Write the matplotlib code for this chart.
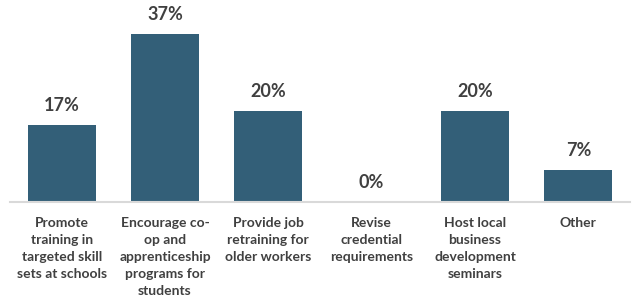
import matplotlib
matplotlib.use("Agg")
import matplotlib.pyplot as plt

categories = ["Promote\ntraining in\ntargeted skill\nsets at schools",
              "Encourage co-\nop and\napprenticeship\nprograms for\nstudents",
              "Provide job\nretraining for\nolder workers",
              "Revise\ncredential\nrequirements",
              "Host local\nbusiness\ndevelopment\nseminars",
              "Other"]
values = [17, 37, 20, 0, 20, 7]
labels = ["17%", "37%", "20%", "0%", "20%", "7%"]

plt.rcParams['font.family'] = ['Lato', 'DejaVu Sans']
fig = plt.figure(figsize=(6.38, 3.06), dpi=100)
ax = fig.add_axes([10/638, 1-202/306, 620/638, 202/306])
x = list(range(len(values)))
bars = ax.bar(x, values, width=0.66, color="#335f78")
ax.set_xlim(-0.5, len(values)-0.5)
ax.set_ylim(0, 44.4)
for xi, v, l in zip(x, values, labels):
    ax.text(xi, v + 2.4, l, ha="center", va="bottom", fontsize=13, fontweight="bold", color="#404040")
for s in ["top", "right", "left"]:
    ax.spines[s].set_visible(False)
ax.spines["bottom"].set_color("#d9d9d9")
ax.spines["bottom"].set_linewidth(1.5)
ax.set_yticks([])
ax.set_xticks(x)
ax.set_xticklabels(categories, fontsize=10, fontweight="bold", color="#404040", linespacing=1.5)
ax.tick_params(axis="x", length=0, pad=11)
fig.savefig("out.png", dpi=100)
